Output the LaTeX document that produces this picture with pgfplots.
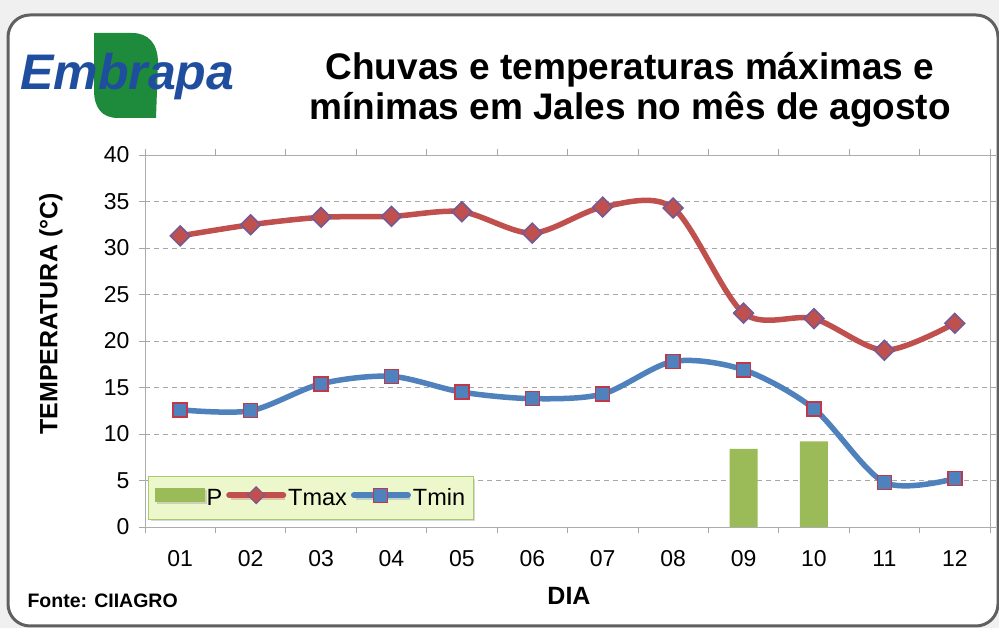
\documentclass[border=0pt]{standalone}
\usepackage{fontspec}
\setmainfont{Liberation Sans}
\usepackage{pgfplots}
\pgfplotsset{compat=1.18}
\usetikzlibrary{shadows}
\definecolor{tmaxc}{HTML}{C0504D}
\definecolor{tminc}{HTML}{4F81BD}
\definecolor{pc}{HTML}{9BBB59}
\definecolor{embblue}{HTML}{1F4E9E}
\definecolor{embgreen}{HTML}{1E8A3C}
\definecolor{legfill}{HTML}{EDF7CC}
\definecolor{legdraw}{HTML}{A9C96E}
\colorlet{tmaxedge}{tminc!70!purple}
\colorlet{tminedge}{tmaxc!70!purple}
\begin{document}
\begin{tikzpicture}[x=1pt,y=1pt]
\useasboundingbox (0,0) rectangle (999,628);
\fill[gray!12] (0,0) rectangle (999,628);
\draw[line width=3pt, draw=gray!75!black, fill=white, rounded corners=22pt] (8,2) rectangle (998,613);
% logo
\fill[embgreen] (94,595) -- (132,595) .. controls (148,595) and (158,585) .. (158,565) -- (156,510) -- (118,510) .. controls (102,510) and (94,520) .. (94,538) -- cycle;
\node[anchor=base west, inner sep=0pt, text=embblue, font=\fontsize{50}{50}\selectfont\bfseries\itshape] at (20,538) {Embrapa};
% title
\node[align=center, font=\fontsize{37}{40}\selectfont\bfseries] at (630,538) {Chuvas e temperaturas máximas e\\mínimas em Jales no mês de agosto};
% labels
\node[rotate=90, font=\fontsize{25}{25}\selectfont\bfseries] at (51,314) {TEMPERATURA (°C)};
\node[font=\fontsize{25}{25}\selectfont\bfseries] at (569,32) {DIA};
\node[anchor=west, font=\fontsize{19.5}{20}\selectfont\bfseries] at (24,27) {Fonte: CIIAGRO};
\begin{axis}[
  at={(145pt,101pt)}, anchor=south west,
  scale only axis, width=845pt, height=372pt,
  xmin=0.5, xmax=12.5, ymin=0, ymax=40,
  axis background/.style={fill=white},
  axis line style={draw=gray!65},
  xtick={1,...,12},
  xticklabels={01,02,03,04,05,06,07,08,09,10,11,12},
  minor xtick={0.5,1.5,...,12.5},
  ytick={0,5,...,40},
  tick align=outside,
  major tick length=6pt, minor tick length=6pt,
  x tick style={draw=none},
  minor x tick style={draw=gray!70, line width=0.8pt},
  y tick style={draw=gray!70, line width=0.8pt},
  ymajorgrids,
  major grid style={draw=gray!70, dash pattern=on 5pt off 4pt, line width=0.7pt},
  /pgf/number format/assume math mode=true,
  tick label style={font=\fontsize{23}{23}\selectfont},
  xticklabel style={yshift=-14pt},
  yticklabel style={xshift=-6pt},
  legend style={at={(0.0036,0.019)}, anchor=south west, fill=legfill, draw=legdraw, line width=1pt,
    font=\fontsize{23.5}{23.5}\selectfont, inner xsep=6pt, inner ysep=10pt, drop shadow={shadow xshift=2pt, shadow yshift=-2pt, opacity=0.3},
    /tikz/every even column/.append style={column sep=2pt}},
  legend columns=3,
  legend cell align=left,
]
\addplot[ybar, bar width=28pt, bar shift=0pt, fill=pc, draw=none,
  legend image code/.code={\fill[pc] (0pt,-4pt) rectangle (50pt,10pt);}]
  coordinates {(9,8.4) (10,9.2)};
\addlegendentry{P}
\addplot[smooth, tension=0.5, color=tmaxc, line width=5.5pt, mark=square*,
  mark options={rotate=45, fill=tmaxc, draw=tmaxedge, line width=1.5pt, solid}, mark size=7pt,
  legend image code/.code={\draw[tmaxc, line width=6pt, line cap=round] (0pt,3pt) -- (54pt,3pt);
    \draw[tmaxc, line width=1pt] plot[mark=square*, mark options={rotate=45, fill=tmaxc, draw=tmaxedge, line width=1pt}, mark size=6pt] coordinates {(27pt,3pt)};}]
  coordinates {(1,31.3) (2,32.5) (3,33.3) (4,33.4) (5,33.9) (6,31.6) (7,34.4) (8,34.3) (9,23.0) (10,22.4) (11,19.0) (12,21.9)};
\addlegendentry{Tmax}
\addplot[smooth, tension=0.5, color=tminc, line width=5.5pt, mark=square*,
  mark options={fill=tminc, draw=tminedge, line width=1.5pt, solid}, mark size=7pt,
  legend image code/.code={\draw[tminc, line width=6pt, line cap=round] (0pt,3pt) -- (54pt,3pt);
    \draw[tminc, line width=1pt] plot[mark=square*, mark options={fill=tminc, draw=tminedge, line width=1pt}, mark size=7pt] coordinates {(27pt,3pt)};}]
  coordinates {(1,12.6) (2,12.5) (3,15.4) (4,16.2) (5,14.5) (6,13.8) (7,14.3) (8,17.8) (9,16.9) (10,12.7) (11,4.8) (12,5.2)};
\addlegendentry{Tmin}
\end{axis}
\end{tikzpicture}
\end{document}
